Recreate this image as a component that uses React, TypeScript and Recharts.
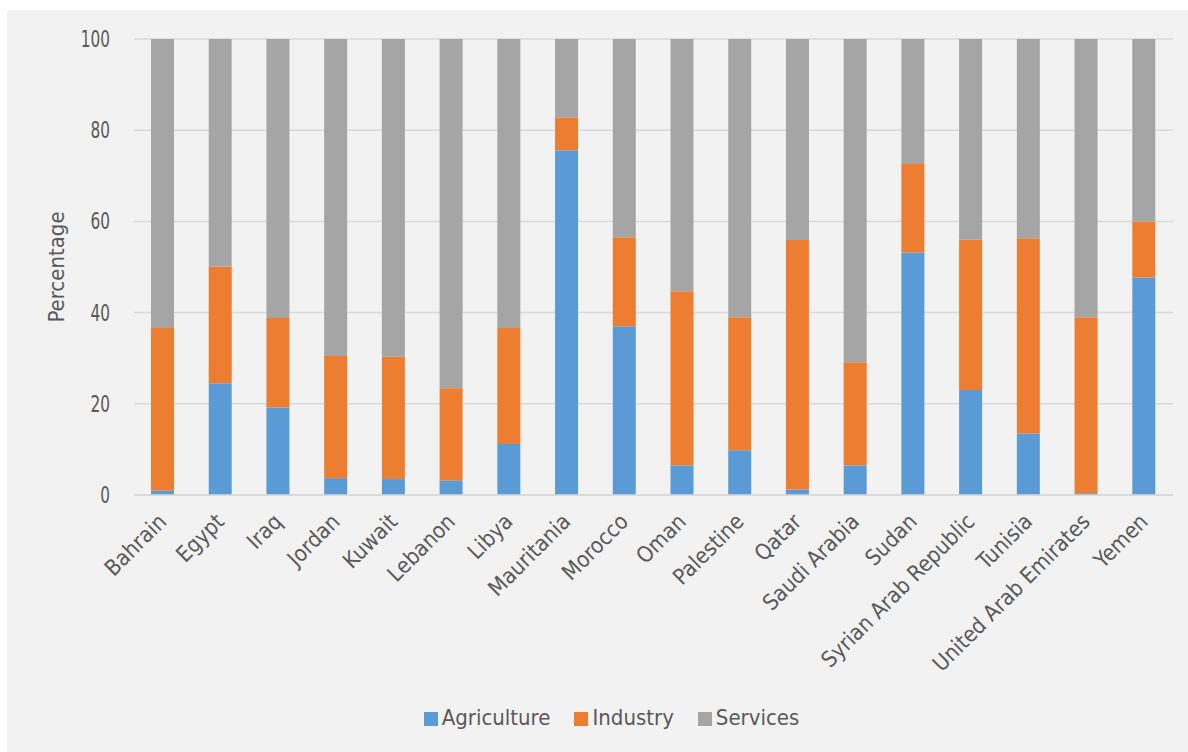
import { BarChart, Bar, XAxis, YAxis, CartesianGrid, Legend } from 'recharts'

const countries = [
  'Bahrain', 'Egypt', 'Iraq', 'Jordan', 'Kuwait', 'Lebanon', 'Libya', 'Mauritania', 'Morocco',
  'Oman', 'Palestine', 'Qatar', 'Saudi Arabia', 'Sudan', 'Syrian Arab Republic', 'Tunisia',
  'United Arab Emirates', 'Yemen',
]
const agriculture = [1.0, 24.5, 19.2, 3.7, 3.5, 3.2, 11.2, 75.6, 37.0, 6.5, 9.8, 1.2, 6.5, 53.2, 23.0, 13.5, 0.4, 47.7]
const industry = [35.6, 25.6, 19.6, 26.8, 26.8, 20.2, 25.4, 7.2, 19.5, 38.2, 29.2, 54.7, 22.6, 19.4, 33.0, 42.8, 38.6, 12.3]
const services = [63.4, 49.9, 61.2, 69.5, 69.7, 76.6, 63.4, 17.2, 43.5, 55.3, 61.0, 44.1, 70.9, 27.4, 44.0, 43.7, 61.0, 40.0]
const yTicks = [0, 20, 40, 60, 80, 100]

const data = countries.map((name, i) => ({
  name,
  Agriculture: agriculture[i],
  Industry: industry[i],
  Services: services[i],
}))

const FONT = "'DejaVu Sans Condensed', 'Roboto Condensed', Roboto, sans-serif"
const TEXT = '#595959'

// category labels, rotated so they end just right of the bar
function CountryTick({ x, y, payload }: any) {
  const ax = x + 5
  const ay = y + 20
  return (
    <text
      x={ax}
      y={ay}
      transform={`rotate(-45, ${ax}, ${ay})`}
      textAnchor="end"
      fill={TEXT}
      fontSize={22}
      fontFamily={FONT}
    >
      {payload.value}
    </text>
  )
}

// narrow digits like the original's condensed face
function ValueTick({ x, y, payload }: any) {
  return (
    <text
      transform={`translate(${x - 16}, ${y + 8}) scale(0.74, 1)`}
      textAnchor="end"
      fill={TEXT}
      fontSize={23}
      fontFamily={FONT}
    >
      {payload.value}
    </text>
  )
}

export default function App() {
  return (
    <div style={{ position: 'absolute', left: 7, top: 10, width: 1181, height: 742, background: '#f2f2f2' }}>
      <BarChart
        width={1181}
        height={742}
        data={data}
        margin={{ top: 29, right: 15, left: 0, bottom: 22 }}
        barSize={23}
      >
        <CartesianGrid vertical={false} stroke="#d9d9d9" strokeWidth={1.5} />
        <XAxis
          dataKey="name"
          interval={0}
          height={210}
          tick={<CountryTick />}
          tickLine={false}
          axisLine={{ stroke: '#d9d9d9', strokeWidth: 1.5 }}
        />
        <YAxis
          width={127}
          domain={[0, 100]}
          ticks={yTicks}
          tickLine={false}
          axisLine={false}
          tick={<ValueTick />}
          label={{ value: 'Percentage', angle: -90, position: 'center', dx: -14, fill: TEXT, fontSize: 22, fontFamily: FONT }}
        />
        <Legend
          verticalAlign="bottom"
          align="center"
          iconType="square"
          iconSize={14}
          wrapperStyle={{ fontFamily: FONT, fontSize: 22, color: TEXT, left: 26, width: 1181 }}
          formatter={(v: string) => <span style={{ color: TEXT, marginRight: 14 }}>{v}</span>}
        />
        <Bar dataKey="Agriculture" stackId="a" fill="#5b9bd5" isAnimationActive={false} />
        <Bar dataKey="Industry" stackId="a" fill="#ed7d31" isAnimationActive={false} />
        <Bar dataKey="Services" stackId="a" fill="#a5a5a5" isAnimationActive={false} />
      </BarChart>
    </div>
  )
}
